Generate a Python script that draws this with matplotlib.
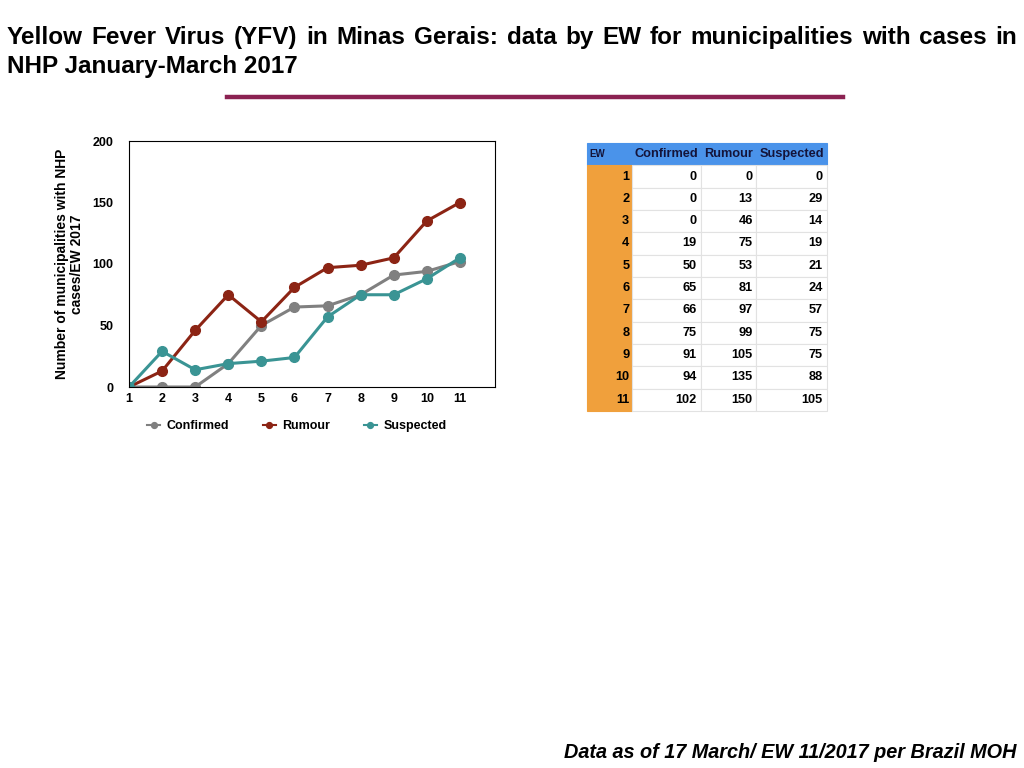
import matplotlib.pyplot as plt
import numpy as np

plt.rcParams['font.family'] = ['Liberation Sans', 'DejaVu Sans']

# data
weeks = [1, 2, 3, 4, 5, 6, 7, 8, 9, 10, 11]
confirmed = [0, 0, 0, 19, 50, 65, 66, 75, 91, 94, 102]
rumour = [0, 13, 46, 75, 53, 81, 97, 99, 105, 135, 150]
suspected = [0, 29, 14, 19, 21, 24, 57, 75, 75, 88, 105]
series_names = ['Confirmed', 'Rumour', 'Suspected']

GRAY = '#808080'
RED = '#8c2414'
TEAL = '#3a9494'
HEADER_BLUE = '#4a93ea'
ORANGE = '#f0a03c'

fig = plt.figure(figsize=(10.24, 7.68), dpi=100)
W, H = 1024, 768


def fx(px):
    return px / W


def fy(py):
    return 1 - py / H


# title, first line justified by hand
line1 = 'Yellow Fever Virus (YFV) in Minas Gerais: data by EW for municipalities with cases in'
tsize = 17.5
words = line1.split(' ')
r = fig.canvas.get_renderer()
txts = [fig.text(0, fy(44), w, fontsize=tsize, fontweight='bold') for w in words]
widths = [t.get_window_extent(r).width for t in txts]
gap = (1017 - 7 - sum(widths)) / (len(words) - 1)
x = 7
for t, w in zip(txts, widths):
    t.set_x(fx(x))
    x += w + gap
fig.text(fx(7), fy(73), 'NHP January-March 2017', fontsize=tsize, fontweight='bold')

# divider
fig.add_artist(plt.Line2D([fx(227), fx(843)], [fy(97), fy(97)], color='#8b2252', lw=3.2))

# line chart
ax = fig.add_axes([fx(129), fy(387), fx(495 - 129), (387 - 141) / H])
ax.plot(weeks, confirmed, '-o', color=GRAY, lw=2.2, ms=7, label=series_names[0])
ax.plot(weeks, rumour, '-o', color=RED, lw=2.2, ms=7, label=series_names[1])
ax.plot(weeks, suspected, '-o', color=TEAL, lw=2.2, ms=7, label=series_names[2])
ax.set_xlim(1, 12.06)
ax.set_ylim(0, 200)
ax.set_xticks(weeks)
ax.set_yticks([0, 50, 100, 150, 200])
ax.tick_params(length=0, labelsize=9)
for lab in ax.get_xticklabels() + ax.get_yticklabels():
    lab.set_fontweight('bold')
ax.tick_params(axis='y', pad=11)
ax.tick_params(axis='x', pad=4)
for s in ax.spines.values():
    s.set_linewidth(0.8)
ax.set_ylabel('Number of municipalities with NHP\ncases/EW 2017', fontsize=10,
              fontweight='bold', labelpad=6, linespacing=1.15)

leg = fig.legend(loc='center', bbox_to_anchor=(fx(297), fy(426)), ncol=3, frameon=False,
                 fontsize=9, handlelength=1.0, markerscale=0.6, columnspacing=2.7,
                 handletextpad=0.55)
for t in leg.get_texts():
    t.set_fontweight('bold')
for h in leg.legend_handles:
    h.set_linewidth(1.5)

# table
tab = fig.add_axes([fx(587), fy(411), fx(827 - 587), (411 - 143) / H])
tab.set_axis_off()
col_labels = ['EW'] + series_names
cells = [[str(w), str(c), str(ru), str(s)] for w, c, ru, s in zip(weeks, confirmed, rumour, suspected)]
tbl = tab.table(cellText=cells, colLabels=col_labels, bbox=[0, 0, 1, 1],
                colWidths=[45, 69, 55, 71], cellLoc='right')
tbl.auto_set_font_size(False)
for (row, col), cell in tbl.get_celld().items():
    cell.set_edgecolor('#e2e2e2')
    cell.set_linewidth(0.8)
    cell.PAD = 0.06
    txt = cell.get_text()
    txt.set_fontweight('bold')
    txt.set_fontsize(9.2)
    if row == 0:
        cell.set_facecolor(HEADER_BLUE)
        cell.set_edgecolor(HEADER_BLUE)
        txt.set_color('#14143a')
        if col == 0:
            txt.set_ha('left')
            cell._loc = 'left'
            txt.set_fontsize(7)
        else:
            cell._loc = 'center'
            txt.set_ha('center')
    elif col == 0:
        cell.set_facecolor(ORANGE)
        cell.set_edgecolor(ORANGE)
    else:
        cell.set_facecolor('white')

# footer
fig.text(fx(1017), fy(758), 'Data as of 17 March/ EW 11/2017 per Brazil MOH', fontsize=14.3,
         fontweight='bold', fontstyle='italic', ha='right')

fig.savefig('out.png', dpi=100)
